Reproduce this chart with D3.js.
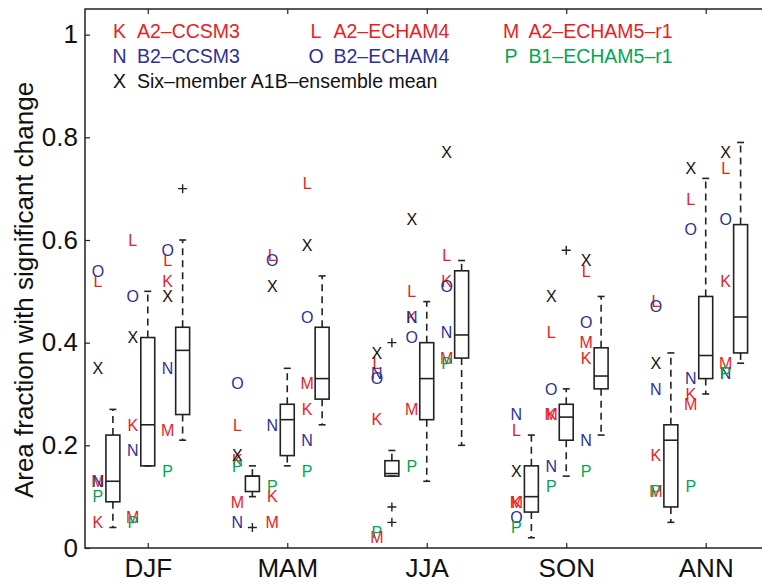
<!DOCTYPE html>
<html>
<head>
<meta charset="utf-8">
<script src="https://cdn.jsdelivr.net/npm/d3@7"></script>
<style>
  body { margin: 0; background: #fff; }
  svg { font-family: "Liberation Sans", Arial, Helvetica, sans-serif; }
  .frame { fill: none; stroke: #222; stroke-width: 1.5; }
  .axis path { display: none; }
  .axis line { stroke: #222; stroke-width: 1.2; }
  .axis text { fill: #111; }
  .box rect { fill: none; stroke: #222; stroke-width: 1.6; }
  .box line { stroke: #222; stroke-width: 1.6; }
  .box .whisk { stroke-dasharray: 7,5; }
</style>
</head>
<body>
<div id="chart"></div>
<script>
var seasons = ['DJF', 'MAM', 'JJA', 'SON', 'ANN']

// box statistics, 3 boxes per season (DJF 1-3, MAM 1-3, ...)
var boxLo  = [0.04, 0.16, 0.21,  0.10, 0.16, 0.24,  0.14, 0.13, 0.20,  0.02, 0.14, 0.22,  0.05, 0.30, 0.36]
var boxQ1  = [0.09, 0.16, 0.26,  0.11, 0.18, 0.29,  0.14, 0.25, 0.37,  0.07, 0.21, 0.31,  0.08, 0.33, 0.38]
var boxMed = [0.13, 0.24, 0.385, 0.14, 0.25, 0.33,  0.145, 0.33, 0.415, 0.10, 0.255, 0.335, 0.21, 0.375, 0.45]
var boxQ3  = [0.22, 0.41, 0.43,  0.14, 0.28, 0.43,  0.17, 0.40, 0.54,  0.16, 0.28, 0.39,  0.24, 0.49, 0.63]
var boxHi  = [0.27, 0.50, 0.60,  0.16, 0.35, 0.53,  0.19, 0.48, 0.56,  0.22, 0.31, 0.49,  0.38, 0.72, 0.79]

// outliers: [box index, value]
var outliers = [[2, 0.70], [3, 0.04], [6, 0.40], [6, 0.08], [6, 0.05], [10, 0.58]]

// model letters and their values at each box
var models = ['K', 'L', 'M', 'N', 'O', 'P', 'X']
var modelNames = ['A2\u2013CCSM3', 'A2\u2013ECHAM4', 'A2\u2013ECHAM5\u2013r1', 'B2\u2013CCSM3', 'B2\u2013ECHAM4', 'B1\u2013ECHAM5\u2013r1', 'Six\u2013member A1B\u2013ensemble mean']
var modelColors = ['#ec1c24', '#ec1c24', '#ec1c24', '#2e3192', '#2e3192', '#00a651', '#111']

var valK = [0.05, 0.24, 0.52,  0.17, 0.10, 0.27,  0.25, 0.45, 0.52,  0.09, 0.26, 0.37,  0.18, 0.30, 0.52]
var valL = [0.52, 0.60, 0.56,  0.24, 0.57, 0.71,  0.36, 0.50, 0.57,  0.23, 0.42, 0.54,  0.48, 0.68, 0.74]
var valM = [0.13, 0.06, 0.23,  0.09, 0.05, 0.32,  0.02, 0.27, 0.37,  0.09, 0.26, 0.40,  0.11, 0.28, 0.36]
var valN = [0.13, 0.19, 0.35,  0.05, 0.24, 0.21,  0.34, 0.45, 0.42,  0.26, 0.16, 0.21,  0.31, 0.33, 0.34]
var valO = [0.54, 0.49, 0.58,  0.32, 0.56, 0.45,  0.33, 0.41, 0.51,  0.06, 0.31, 0.44,  0.47, 0.62, 0.64]
var valP = [0.10, 0.05, 0.15,  0.16, 0.12, 0.15,  0.03, 0.16, 0.36,  0.04, 0.12, 0.15,  0.11, 0.12, 0.34]
var valX = [0.35, 0.41, 0.49,  0.18, 0.51, 0.59,  0.38, 0.64, 0.77,  0.15, 0.49, 0.56,  0.36, 0.74, 0.77]
var modelVals = [valK, valL, valM, valN, valO, valP, valX]

var yTicks = [0, 0.2, 0.4, 0.6, 0.8, 1]

var width = 762, height = 583
var svg = d3.select('#chart').append('svg').attr('width', width).attr('height', height)

var x = d3.scaleLinear().domain([0.2, 19.8]).range([85, 768.5])
var y = d3.scaleLinear().domain([0, 1.05]).range([548, 9])

// box i sits at 1,2,3, 5,6,7, ...
function pos(i){ return Math.floor(i / 3) * 4 + (i % 3) + 1 }
var halfW = 0.2, capW = 0.1, letterOff = -0.43

// axes
svg.append('g').attr('class', 'axis')
  .attr('transform', 'translate(' + x(0.2) + ',0)')
  .call(d3.axisLeft(y).tickValues(yTicks).tickSize(-5).tickPadding(7).tickFormat(d3.format('~g')))
  .selectAll('text').style('font-size', '26px')

svg.append('g').attr('class', 'axis')
  .attr('transform', 'translate(0,' + y(0) + ')')
  .call(d3.axisBottom(x).tickValues([2, 6, 10, 14, 18]).tickSize(-5).tickPadding(11).tickFormat(function(d, i){ return seasons[i] }))
  .selectAll('text').style('font-size', '26px')

svg.append('g').attr('class', 'axis')
  .attr('transform', 'translate(0,' + y(1.05) + ')')
  .call(d3.axisTop(x).tickValues([2, 6, 10, 14, 18]).tickSize(-5).tickFormat(''))

svg.append('rect').attr('class', 'frame')
  .attr('x', x(0.2)).attr('y', y(1.05))
  .attr('width', x(19.8) - x(0.2)).attr('height', y(0) - y(1.05))

svg.append('text')
  .attr('transform', 'translate(33,' + 290 + ') rotate(-90)')
  .attr('text-anchor', 'middle')
  .style('font-size', '26px').style('fill', '#111')
  .text('Area fraction with significant change')

// boxes
var boxes = svg.selectAll('g.box').data(d3.range(15)).enter().append('g').attr('class', 'box')

boxes.append('line').attr('class', 'whisk')
  .attr('x1', function(i){ return x(pos(i)) }).attr('x2', function(i){ return x(pos(i)) })
  .attr('y1', function(i){ return y(boxQ3[i]) }).attr('y2', function(i){ return y(boxHi[i]) })
boxes.append('line').attr('class', 'whisk')
  .attr('x1', function(i){ return x(pos(i)) }).attr('x2', function(i){ return x(pos(i)) })
  .attr('y1', function(i){ return y(boxQ1[i]) }).attr('y2', function(i){ return y(boxLo[i]) })
boxes.append('line')
  .attr('x1', function(i){ return x(pos(i) - capW) }).attr('x2', function(i){ return x(pos(i) + capW) })
  .attr('y1', function(i){ return y(boxHi[i]) }).attr('y2', function(i){ return y(boxHi[i]) })
boxes.append('line')
  .attr('x1', function(i){ return x(pos(i) - capW) }).attr('x2', function(i){ return x(pos(i) + capW) })
  .attr('y1', function(i){ return y(boxLo[i]) }).attr('y2', function(i){ return y(boxLo[i]) })
boxes.append('rect')
  .attr('x', function(i){ return x(pos(i) - halfW) })
  .attr('width', function(i){ return x(pos(i) + halfW) - x(pos(i) - halfW) })
  .attr('y', function(i){ return y(boxQ3[i]) })
  .attr('height', function(i){ return y(boxQ1[i]) - y(boxQ3[i]) })
boxes.append('line')
  .attr('x1', function(i){ return x(pos(i) - halfW) }).attr('x2', function(i){ return x(pos(i) + halfW) })
  .attr('y1', function(i){ return y(boxMed[i]) }).attr('y2', function(i){ return y(boxMed[i]) })

// outliers as '+'
svg.selectAll('path.outlier').data(outliers).enter().append('path')
  .attr('class', 'outlier')
  .attr('d', function(d){
    var cx = x(pos(d[0])), cy = y(d[1]), r = 4.5
    return 'M' + (cx - r) + ',' + cy + 'H' + (cx + r) + 'M' + cx + ',' + (cy - r) + 'V' + (cy + r)
  })
  .style('stroke', '#222').style('stroke-width', 1.4)

// model letters
models.forEach(function(m, k){
  svg.selectAll('text.m' + m).data(modelVals[k]).enter().append('text')
    .attr('class', 'm' + m)
    .attr('x', function(v, i){ return x(pos(i) + letterOff) })
    .attr('y', function(v){ return y(v) })
    .attr('dy', '0.36em')
    .attr('text-anchor', 'middle')
    .style('font-size', '16px')
    .style('fill', modelColors[k])
    .text(m)
})

// legend
var legCols = [119.5, 316, 511], legRows = [30.5, 55.5, 80.5]
var leg = svg.selectAll('g.leg').data(models).enter().append('g').attr('class', 'leg')
  .attr('transform', function(m, k){
    var c = k == 6 ? 0 : k % 3, r = k == 6 ? 2 : Math.floor(k / 3)
    return 'translate(' + legCols[c] + ',' + legRows[r] + ')'
  })
  .style('font-size', '19.5px')
  .style('fill', function(m, k){ return modelColors[k] })
leg.append('text').attr('text-anchor', 'middle').attr('dy', '0.36em').text(function(m){ return m })
leg.append('text').attr('x', 17.5).attr('dy', '0.36em').text(function(m, k){ return modelNames[k] })
</script>
</body>
</html>
